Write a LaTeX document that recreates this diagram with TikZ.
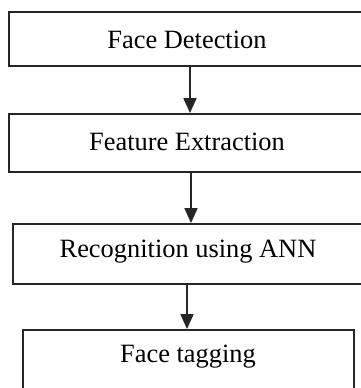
\documentclass[tikz,border=0pt]{standalone}
\usepackage{fontspec}
\setmainfont{Liberation Serif}
\usetikzlibrary{arrows.meta}
\begin{document}
\begin{tikzpicture}[x=1bp,y=-1bp,
  stagebox/.style={draw=black!85, line width=1.8bp, fill=white, inner sep=0pt, rectangle},
  stagetext/.style={font=\fontsize{26.5}{30}\selectfont, inner sep=0pt, text=black},
  flow/.style={draw=black!85, line width=1.6bp, -{Triangle[width=13bp,length=15bp]}}]
\useasboundingbox (0,0) rectangle (361,388);
\clip (0,0) rectangle (361,388);
\node[stagebox, minimum width=366bp, minimum height=54bp] (b1) at (192,39) {};
\node[stagebox, minimum width=366bp, minimum height=58bp] (b2) at (192,143) {};
\node[stagebox, minimum width=362bp, minimum height=60bp] (b3) at (194,254) {};
\node[stagebox, minimum width=331bp, minimum height=70bp] (b4) at (188.5,365) {};
\node[stagetext] (t1) at (187,40) {Face Detection};
\node[stagetext] (t2) at (187,142) {Feature Extraction};
\node[stagetext] (t3) at (188,252) {Recognition using ANN};
\node[stagetext] (t4) at (188,357) {Face tagging};
\coordinate (a1) at (190,0);
\coordinate (a2) at (191,0);
\coordinate (a3) at (187,0);
\draw[flow] (b1.south -| a1) -- (b2.north -| a1);
\draw[flow] (b2.south -| a2) -- (b3.north -| a2);
\draw[flow] (b3.south -| a3) -- (b4.north -| a3);
\end{tikzpicture}
\end{document}
